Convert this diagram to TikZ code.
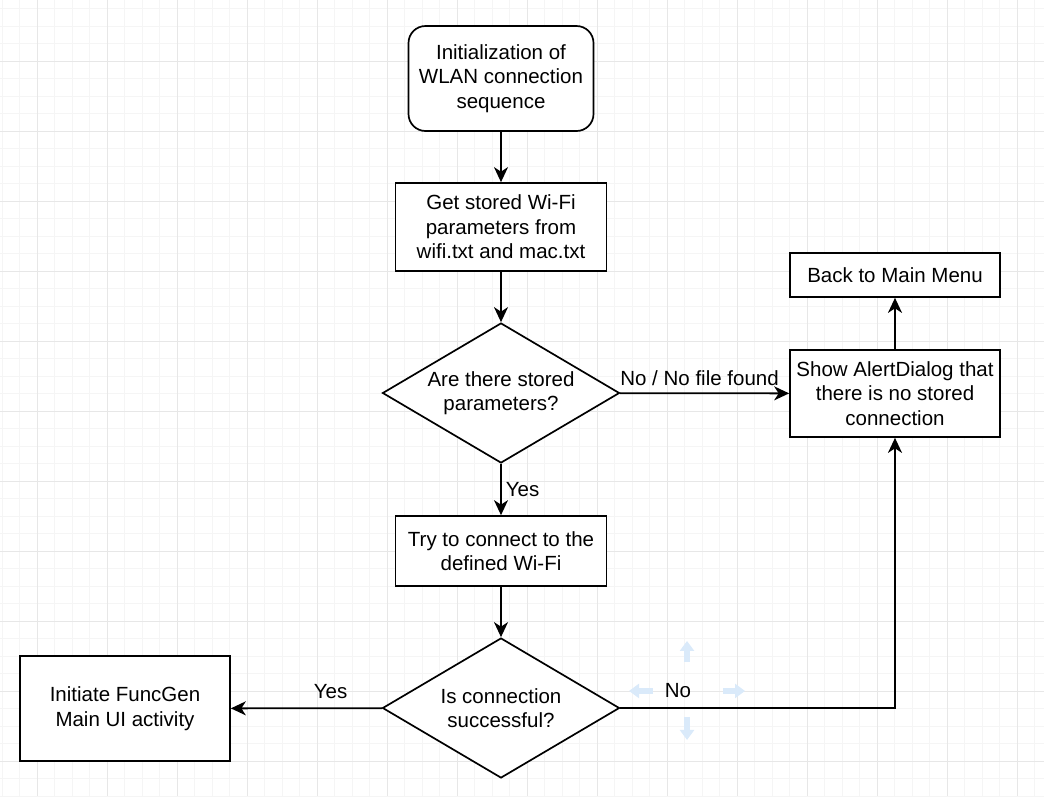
\documentclass[tikz,border=0pt]{standalone}
\usepackage{fontspec}
\setmainfont{Liberation Sans}
\usetikzlibrary{shapes.geometric,arrows.meta}

\definecolor{gridminor}{HTML}{F5F5F5}
\definecolor{gridmajor}{HTML}{E7E7E7}
\definecolor{hintblue}{HTML}{DAEAFA}

\begin{document}
\begin{tikzpicture}[x=1pt, y=-1pt,
  every node/.style={font=\fontsize{20.5}{24.6}\selectfont, align=center, inner sep=0pt},
  box/.style={draw, line width=1.7pt, fill=white},
  decision/.style={draw, diamond, shape aspect=1.69, line width=1.7pt, fill=white},
  flow/.style={line width=1.8pt, -{Stealth[length=15pt, width=14pt, inset=4.5pt]}},
  hint/.style={hintblue, line width=6pt, -{Triangle[length=10pt, width=14pt]}}]
\useasboundingbox (0,0) rectangle (1044,796);
% background grid
\foreach \gx in {2,19.5,...,1044} \draw[gridminor, line width=0.9pt] (\gx,0) -- (\gx,796);
\foreach \gy in {8.5,26,...,796} \draw[gridminor, line width=0.9pt] (0,\gy) -- (1044,\gy);
\foreach \gx in {37,107,...,1044} \draw[gridmajor, line width=0.9pt] (\gx,0) -- (\gx,796);
\foreach \gy in {61,131,...,796} \draw[gridmajor, line width=0.9pt] (0,\gy) -- (1044,\gy);
% nodes
\node[box, rounded corners=17pt, minimum width=185pt, minimum height=105pt] (init) at (501,78.5) {Initialization of\\WLAN connection\\sequence};
\node[box, minimum width=211pt, minimum height=88pt] (params) at (501,227) {Get stored Wi-Fi\\parameters from\\wifi.txt and mac.txt};
\node[decision, minimum width=237pt, minimum height=140pt] (stored) at (501,393) {Are there stored\\parameters?};
\node[box, minimum width=211pt, minimum height=70pt] (connect) at (501,551) {Try to connect to the\\defined Wi-Fi};
\node[decision, minimum width=237pt, minimum height=140pt] (success) at (501,708) {Is connection\\successful?};
\node[box, minimum width=210pt, minimum height=105pt] (funcgen) at (125,708.5) {Initiate FuncGen\\Main UI activity};
\node[box, minimum width=210pt, minimum height=87pt] (alert) at (895,393.5) {Show AlertDialog that\\there is no stored\\connection};
\node[box, minimum width=210pt, minimum height=44pt] (menu) at (895,275) {Back to Main Menu};
% connectors
\draw[flow] (init) -- (params);
\draw[flow] (params) -- (stored);
\draw[flow] (stored) -- node[right, inner sep=4pt] {Yes} (connect);
\draw[flow] (stored) -- node[above, pos=0.47, inner sep=7pt] {No / No file found} (alert);
\draw[flow] (alert) -- (menu);
\draw[flow] (connect) -- (success);
\draw[flow] (success) -- node[above, pos=0.34, inner sep=9pt] {Yes} (funcgen);
\draw[flow] (success) -| node[above, pos=0.105, inner sep=9pt] (no) {No} (alert);
% hover hints round the label
\draw[hint] (no.center) ++(9,-29) -- ++(0,-21);
\draw[hint] (no.center) ++(9,26) -- ++(0,23);
\draw[hint] (no.center) ++(-25,0) -- ++(-24,0);
\draw[hint] (no.center) ++(45,0) -- ++(22,0);
\end{tikzpicture}
\end{document}
